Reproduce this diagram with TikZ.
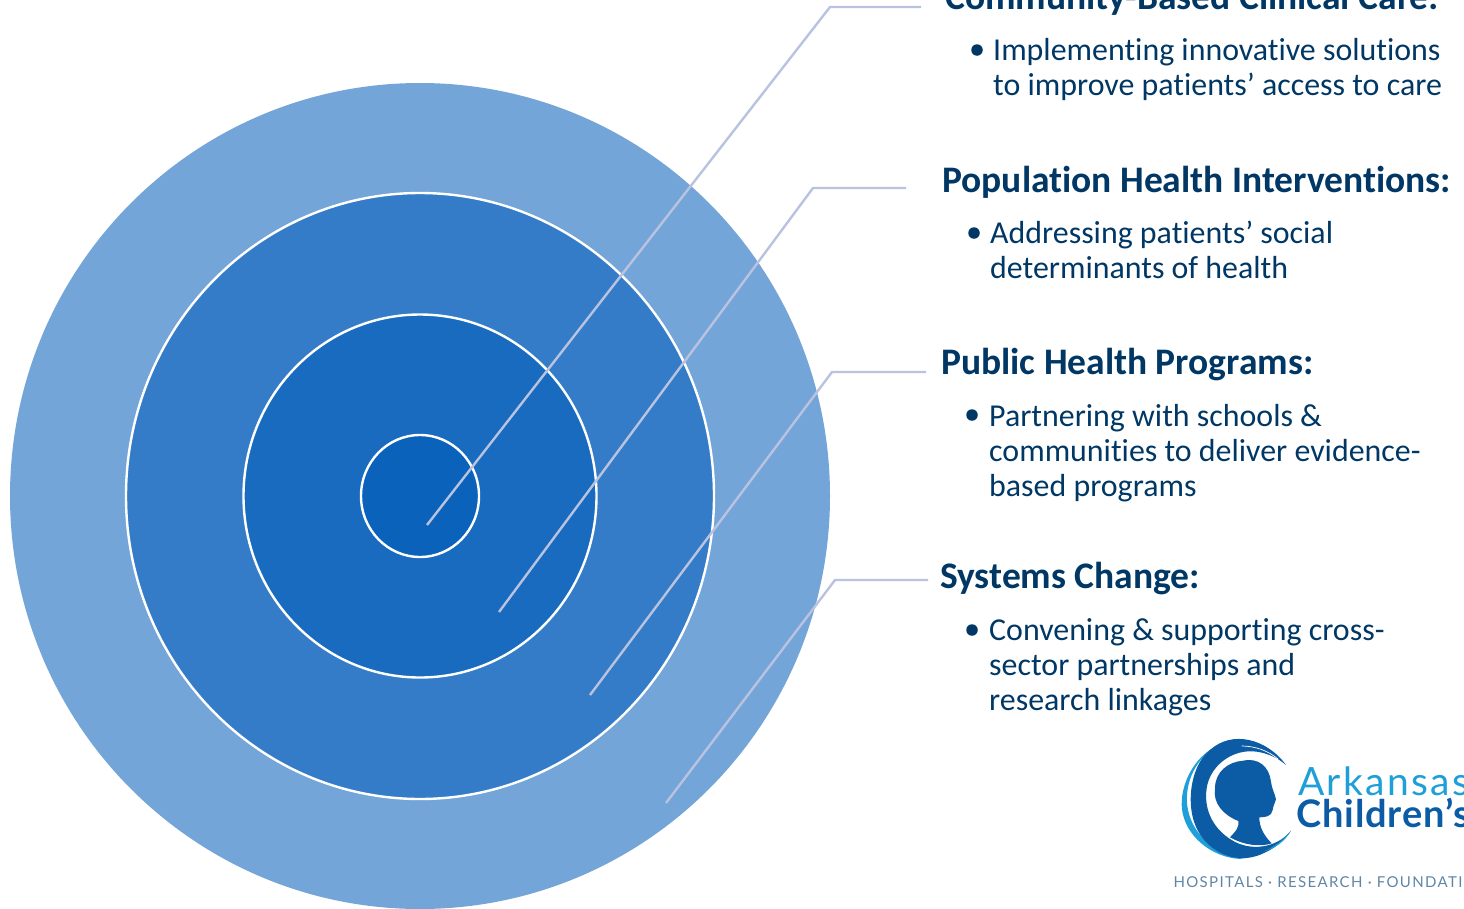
\documentclass[tikz,border=0pt]{standalone}
\usepackage{fontspec}
\usetikzlibrary{shapes.geometric}
\setmainfont[Ligatures=NoCommon]{Carlito}
\newfontfamily\logofont{Lato}
\definecolor{ringa}{HTML}{74A5D8}
\definecolor{ringb}{HTML}{357CC8}
\definecolor{ringc}{HTML}{186BBE}
\definecolor{ringd}{HTML}{0B62BA}
\definecolor{inktext}{HTML}{003764}
\definecolor{leader}{HTML}{B9C3E0}
\definecolor{logodark}{HTML}{0B5CA5}
\definecolor{logolight}{HTML}{1E9FD8}
\definecolor{logogrey}{HTML}{5F86A6}
\tikzset{
	ring/.style={ellipse, inner sep=0pt, draw=white, line width=2.4pt},
	heading/.style={anchor=base west, inner sep=0pt, text=inktext, font=\fontsize{37.5}{35}\selectfont\bfseries},
	body/.style={anchor=base west, inner sep=0pt, align=left, text=inktext, font=\fontsize{31.9}{35}\selectfont},
	dot/.style={circle, inner sep=0pt, minimum size=11.5pt, fill=inktext},
	leaderline/.style={draw=leader, line width=2.4pt, line join=round},
}

\begin{document}
\begin{tikzpicture}[x=1pt,y=-1pt]

\useasboundingbox (0,0) rectangle (1464,908);
\clip (0,0) rectangle (1464,908);

\node (outer) [ellipse, inner sep=0pt, minimum width=820pt, minimum height=826pt, fill=ringa] at (420,496) {};
\node (system) [ring, minimum width=588pt, minimum height=606pt, fill=ringb] at (420,496) {};
\node (public) [ring, minimum width=353pt, minimum height=363pt, fill=ringc] at (420,496) {};
\node (clinic) [ring, minimum width=118pt, minimum height=122pt, fill=ringd] at (420,496) {};

\coordinate (clinic-in) at (427,525);
\coordinate (clinic-bend) at (830,7);
\coordinate (clinic-out) at (921,7);
\coordinate (popul-in) at (499,612);
\coordinate (popul-bend) at (813,188);
\coordinate (popul-out) at (906,188);
\coordinate (public-in) at (590,695);
\coordinate (public-bend) at (832,372);
\coordinate (public-out) at (926,372);
\coordinate (system-in) at (666,803);
\coordinate (system-bend) at (835,580);
\coordinate (system-out) at (928,580);

\draw[leaderline] (clinic-in) -- (clinic-bend) -- (clinic-out);
\draw[leaderline] (popul-in) -- (popul-bend) -- (popul-out);
\draw[leaderline] (public-in) -- (public-bend) -- (public-out);
\draw[leaderline] (system-in) -- (system-bend) -- (system-out);

\node (clinic-head) [heading] at (945,9) {Community-Based Clinical Care:};
\node (clinic-dot) [dot] at (977,50) {};
\node (clinic-text) [body] at (993,95) {Implementing innovative solutions\\to improve patients’ access to care};

\node (popul-head) [heading] at (942,192) {Population Health Interventions:};
\node (popul-dot) [dot] at (974,233) {};
\node (popul-text) [body] at (990,278) {Addressing patients’ social\\determinants of health};

\node (public-head) [heading] at (941,374) {Public Health Programs:};
\node (public-dot) [dot] at (972,415) {};
\node (public-text) [body] at (989,496) {Partnering with schools \&\\communities to deliver evidence-\\based programs};

\node (system-head) [heading] at (940,588) {Systems Change:};
\node (system-dot) [dot] at (972,630) {};
\node (system-text) [body] at (989,710) {Convening \& supporting cross-\\sector partnerships and\\research linkages};

% logo
\begin{scope}[shift={(1160,720)},x=0.3333pt,y=-0.3333pt]
\fill[logolight] (165,80) .. controls (85,125) and (55,220) .. (68,280) .. controls (85,360) and (170,420) .. (255,417) .. controls (175,405) and (100,350) .. (84,270) .. controls (70,200) and (100,125) .. (165,80) -- cycle;
\fill[logodark] (378,135) .. controls (320,55) and (215,30) .. (150,90) .. controls (100,130) and (85,215) .. (95,275) .. controls (110,380) and (215,445) .. (310,400) .. controls (345,385) and (375,360) .. (393,332) .. controls (350,385) and (270,395) .. (215,360) .. controls (165,330) and (130,275) .. (140,205) .. controls (150,135) and (220,85) .. (290,95) .. controls (325,100) and (355,115) .. (378,135) -- cycle;
\fill[logolight] (393,332) .. controls (375,365) and (345,385) .. (310,395) .. controls (345,380) and (370,360) .. (393,332) -- cycle;
\draw[white, line width=0.7pt] (245,78) .. controls (285,78) and (325,92) .. (355,118);
\fill[logodark] (250,122) .. controls (295,112) and (328,140) .. (333,185) .. controls (335,205) and (345,222) .. (348,238) .. controls (345,250) and (340,255) .. (338,270) .. controls (335,290) and (315,292) .. (298,292) .. controls (298,320) and (310,345) .. (335,370) .. controls (300,382) and (250,375) .. (210,352) .. controls (225,335) and (238,325) .. (235,303) .. controls (190,285) and (158,250) .. (165,205) .. controls (165,155) and (205,125) .. (250,122) -- cycle;
\node (logo-top) [anchor=base west, inner sep=0pt, text=logolight, font=\logofont\addfontfeature{LetterSpace=6}\fontsize{39}{39}\selectfont] at (414,225) {Arkansas};
\node (logo-mid) [anchor=base west, inner sep=0pt, text=logodark, font=\logofont\bfseries\addfontfeature{LetterSpace=2}\fontsize{38}{38}\selectfont] at (410,322) {Children’s};
\node (logo-low) [anchor=base west, inner sep=0pt, text=logogrey, font=\logofont\addfontfeature{LetterSpace=9}\fontsize{15}{15}\selectfont] at (40,503) {HOSPITALS · RESEARCH · FOUNDATI};
\end{scope}

\end{tikzpicture}
\end{document}
